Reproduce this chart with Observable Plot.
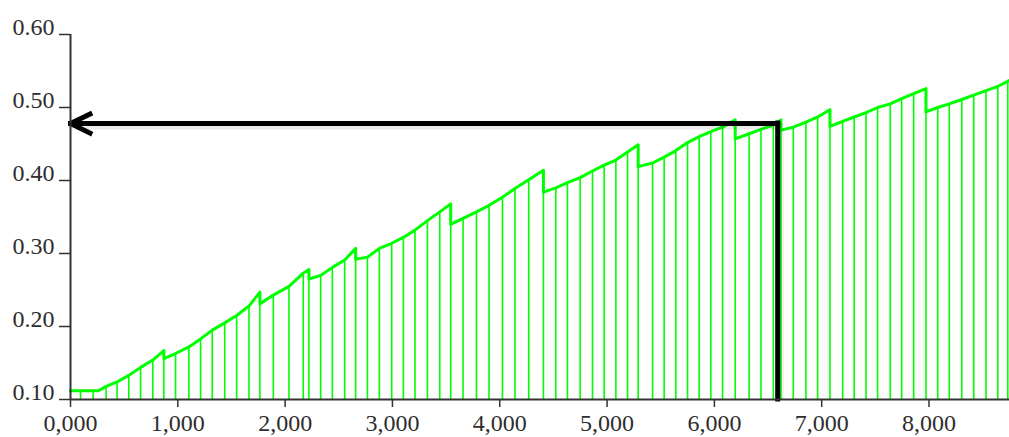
<!DOCTYPE html>
<html>
<head>
<meta charset="utf-8">
<script src="https://cdn.jsdelivr.net/npm/d3@7"></script>
<script src="https://cdn.jsdelivr.net/npm/@observablehq/plot@0.6"></script>
<style>
  html, body { margin: 0; padding: 0; background: #ffffff; }
  svg { display: block; }
</style>
</head>
<body>
<script>
// Sample positions (x axis units) where the vertical green rules stand
const sampleX = [
  0.093, 0.211, 0.332, 0.434, 0.543, 0.653, 0.767, 0.870, 0.979, 1.103,
  1.212, 1.321, 1.437, 1.548, 1.663, 1.765, 1.890, 2.036, 2.169, 2.222,
  2.331, 2.440, 2.555, 2.657, 2.767, 2.878, 2.993, 3.102, 3.210, 3.326,
  3.441, 3.543, 3.658, 3.783, 3.900, 4.025, 4.142, 4.270, 4.407, 4.522,
  4.631, 4.749, 4.864, 4.973, 5.082, 5.191, 5.290, 5.424, 5.532, 5.641,
  5.750, 5.858, 5.967, 6.076, 6.194, 6.324, 6.434, 6.549, 6.620, 6.735,
  6.853, 6.962, 7.077, 7.195, 7.303, 7.413, 7.521, 7.639, 7.745, 7.857,
  7.972, 8.081, 8.189, 8.305, 8.417, 8.531, 8.641, 8.734
];
// Curve value at each sample (top of each rule)
const sampleY = [
  0.112, 0.112, 0.118, 0.124, 0.133, 0.144, 0.154, 0.167, 0.163, 0.172,
  0.183, 0.195, 0.205, 0.215, 0.228, 0.247, 0.243, 0.255, 0.273, 0.278,
  0.270, 0.281, 0.291, 0.307, 0.295, 0.307, 0.314, 0.322, 0.332, 0.345,
  0.357, 0.368, 0.348, 0.357, 0.366, 0.377, 0.389, 0.401, 0.414, 0.390,
  0.397, 0.404, 0.413, 0.421, 0.428, 0.439, 0.449, 0.424, 0.432, 0.441,
  0.452, 0.460, 0.467, 0.473, 0.483, 0.464, 0.470, 0.476, 0.483, 0.473,
  0.480, 0.487, 0.497, 0.481, 0.487, 0.493, 0.500, 0.505, 0.512, 0.519,
  0.526, 0.500, 0.505, 0.511, 0.517, 0.523, 0.529, 0.536
];
// Sawtooth drops: position and value right after the drop
const dropX = [0.870, 1.765, 2.222, 2.657, 3.543, 4.407, 5.290, 6.194, 6.620, 7.077, 7.972];
const dropY = [0.156, 0.231, 0.265, 0.292, 0.340, 0.384, 0.419, 0.457, 0.469, 0.474, 0.494];
// Curve start and end
const startPoint = [0, 0.112];
const kneePoint = [0.26, 0.112];
const endPoint = [8.75, 0.537];

// Reading guide (arrow)
const guideX = [6.59];
const guideY = [0.478];

// Axes
const xTicks = [0, 1, 2, 3, 4, 5, 6, 7, 8];
const xTickLabels = ["0,000", "1,000", "2,000", "3,000", "4,000", "5,000", "6,000", "7,000", "8,000"];
const yTicks = [0.1, 0.2, 0.3, 0.4, 0.5, 0.6];
const yTickLabels = ["0.10", "0.20", "0.30", "0.40", "0.50", "0.60"];

// Build tables
const samples = sampleX.map((x, i) => ({x, y: sampleY[i]}));
const curve = [{x: startPoint[0], y: startPoint[1]}];
samples.forEach(s => {
  if (s.x > kneePoint[0] && curve[curve.length - 1].x < kneePoint[0]) curve.push({x: kneePoint[0], y: kneePoint[1]});
  curve.push({x: s.x, y: s.y});
  const d = dropX.indexOf(s.x);
  if (d >= 0) curve.push({x: s.x, y: dropY[d]});
});
curve.push({x: endPoint[0], y: endPoint[1]});
const guide = [{x: guideX[0], y: guideY[0]}];

const green = "#00ff00";
const chart = Plot.plot({
  width: 1009,
  height: 437,
  marginLeft: 70,
  marginRight: 0,
  marginTop: 34,
  marginBottom: 38,
  style: {fontFamily: "'Liberation Serif', 'Times New Roman', serif", fontSize: "24px", background: "#ffffff", color: "#2e2e2e"},
  x: {domain: [0, 8.75], label: null},
  y: {domain: [0.1, 0.6], label: null},
  marks: [
    Plot.ruleX(samples, {x: "x", y1: 0.1, y2: "y", stroke: green, strokeWidth: 1.6}),
    Plot.line(curve, {x: "x", y: "y", stroke: green, strokeWidth: 3, curve: "linear"}),
    // soft shadow of the guide
    Plot.ruleY(guide, {y: "y", x1: 0.05, x2: "x", dy: 3, stroke: "#000", strokeOpacity: 0.08, strokeWidth: 6}),
    Plot.ruleX(guide, {x: "x", y1: 0.1, y2: "y", dx: 3, stroke: "#000", strokeOpacity: 0.08, strokeWidth: 6}),
    Plot.ruleX(guide, {x: "x", y1: 0.1, y2: "y", stroke: "#000", strokeWidth: 5, strokeLinecap: "square"}),
    Plot.arrow(guide, {x1: "x", y1: "y", x2: 0, y2: "y", stroke: "#000", strokeWidth: 5, headLength: 6.5, headAngle: 52, strokeLinecap: "square"}),
    Plot.axisX({ticks: xTicks, tickFormat: (d) => xTickLabels[xTicks.indexOf(d)], tickSize: 8, tickPadding: 6, strokeWidth: 1.5, stroke: "#333", label: null}),
    Plot.axisY({ticks: yTicks, tickFormat: (d) => yTickLabels[yTicks.indexOf(d)], tickSize: 11, tickPadding: 5, strokeWidth: 1.5, stroke: "#333", lineAnchor: "bottom", label: null}),
    Plot.ruleY([0.1], {stroke: "#333", strokeWidth: 2}),
    Plot.ruleX([0], {y1: 0.1, y2: 0.6, stroke: "#333", strokeWidth: 2})
  ]
});
document.body.appendChild(chart);
</script>
</body>
</html>
